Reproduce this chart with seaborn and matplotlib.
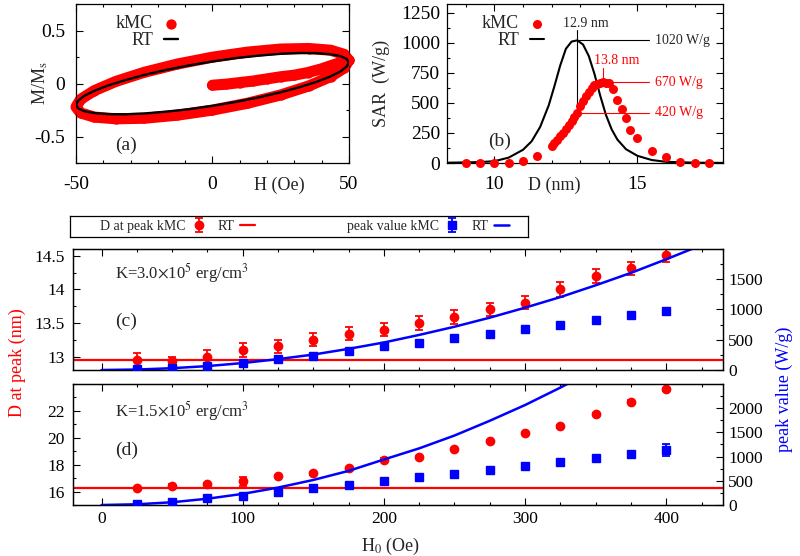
import matplotlib
matplotlib.use("Agg")
import matplotlib.pyplot as plt
import seaborn as sns
import pandas as pd
from matplotlib.ticker import MultipleLocator, FuncFormatter

RED = "#ff0000"
BLUE = "#0000ff"

# ---- (a) M/Ms vs H ----
loop_h_kmc = [0, 5, 10, 15, 20, 25, 30, 35, 40, 44, 47, 49,
              50, 48.3, 43.3, 35.4, 25, 12.9, 0, -12.9, -25, -35.4, -43.3, -48.3,
              -50, -48.3, -43.3, -35.4, -25, -12.9, 0, 12.9, 25, 35.4, 43.3, 48.3, 50]
loop_m_kmc = [-0.015, -0.005, 0.01, 0.025, 0.045, 0.065, 0.08, 0.105, 0.14, 0.175, 0.2, 0.22,
              0.22, 0.277, 0.316, 0.332, 0.327, 0.298, 0.25, 0.185, 0.107, 0.021, -0.066, -0.148,
              -0.22, -0.277, -0.316, -0.332, -0.327, -0.298, -0.25, -0.185, -0.107, -0.021, 0.066, 0.148, 0.22]
loop_h_rt = [50, 49.2, 47.0, 43.3, 38.3, 32.1, 25.0, 17.1, 8.7, 0, -8.7, -17.1, -25.0, -32.1, -38.3, -43.3,
             -47.0, -49.2, -50, -49.2, -47.0, -43.3, -38.3, -32.1, -25.0, -17.1, -8.7, 0, 8.7, 17.1,
             25.0, 32.1, 38.3, 43.3, 47.0, 49.2, 50]
loop_m_rt = [0.200, 0.234, 0.260, 0.278, 0.288, 0.290, 0.282, 0.265, 0.242, 0.210, 0.172, 0.129,
             0.082, 0.032, -0.018, -0.068, -0.116, -0.161, -0.200, -0.234, -0.260, -0.278, -0.288,
             -0.290, -0.282, -0.265, -0.242, -0.210, -0.172, -0.129, -0.082, -0.032, 0.018, 0.068,
             0.116, 0.161, 0.200]

# ---- (b) SAR vs D ----
sar_d_kmc = [9.0, 9.5, 10.0, 10.5, 11.0, 11.5,
             12.0, 12.1, 12.2, 12.3, 12.4, 12.5, 12.6, 12.7, 12.8, 12.9, 13.0, 13.1, 13.2, 13.3,
             13.4, 13.5, 13.6, 13.7, 13.8, 13.9, 14.0,
             14.15, 14.3, 14.45, 14.6, 14.75,
             15.0, 15.5, 16.0, 16.5, 17.0, 17.5]
sar_kmc = [0, 0, 2, 4, 18, 55,
           140, 165, 195, 222, 250, 282, 315, 350, 385, 420, 470, 518, 555, 590,
           620, 645, 660, 668, 670, 668, 662,
           615, 525, 450, 372, 278,
           208, 103, 46, 12, 2, 0]
sar_d_rt = [8.4, 9.0, 9.5, 10.0, 10.5, 11.0, 11.3, 11.6, 11.9, 12.1, 12.3, 12.5, 12.7, 12.9,
            13.1, 13.3, 13.5, 13.7, 13.9, 14.1, 14.3, 14.6, 15.0, 15.5, 16.0, 17.0, 18.0]
sar_rt = [3, 5, 8, 15, 45, 110, 180, 300, 480, 640, 810, 950, 1010, 1020,
          985, 890, 740, 560, 400, 280, 195, 115, 60, 25, 10, 3, 1]
rt_peak_pos, rt_peak_val = 12.9, 1020
kmc_peak_pos, kmc_peak_val = 13.8, 670
kmc_at_rt_peak = 420

# ---- (c), (d) peak position / value vs H0 ----
h0 = [25, 50, 75, 100, 125, 150, 175, 200, 225, 250, 275, 300, 325, 350, 375, 400]
dpeak_c = [12.95, 12.94, 13.0, 13.1, 13.15, 13.25, 13.34, 13.4, 13.5, 13.59, 13.7, 13.8, 14.0, 14.2, 14.31, 14.51]
dpeak_c_err = [0.1, 0.06, 0.1, 0.1, 0.1, 0.1, 0.1, 0.1, 0.11, 0.1, 0.1, 0.1, 0.11, 0.1, 0.1, 0.1]
peak_c = [15, 30, 65, 120, 178, 233, 306, 389, 444, 522, 600, 678, 750, 833, 906, 983]
peak_c_err = [15] * 16
dpeak_rt_c = 12.95
h_rt_c = [0, 25, 50, 75, 100, 125, 150, 175, 200, 225, 250, 275, 300, 325, 350, 375, 400, 425]
peak_rt_c = [0, 8, 30, 65, 115, 180, 255, 350, 455, 580, 715, 865, 1030, 1205, 1400, 1605, 1830, 2065]

dpeak_d = [16.26, 16.43, 16.56, 16.75, 17.16, 17.35, 17.76, 18.38, 18.56, 19.16, 19.76, 20.36, 20.86, 21.77, 22.69, 23.59]
dpeak_d_err = [0.1, 0.1, 0.1, 0.3, 0.1, 0.1, 0.1, 0.1, 0.1, 0.1, 0.1, 0.1, 0.1, 0.1, 0.1, 0.1]
peak_d = [21, 69, 138, 186, 262, 344, 413, 496, 572, 647, 730, 806, 888, 964, 1047, 1136]
peak_d_err = [20] * 15 + [125]
dpeak_rt_d = 16.3
h_rt_d = [0, 25, 50, 75, 100, 125, 150, 175, 200, 225, 250, 275, 300, 325, 350]
peak_rt_d = [0, 15, 57, 130, 230, 360, 517, 705, 940, 1170, 1435, 1740, 2065, 2425, 2810]

sns.set_theme(style="ticks")
plt.rcParams["font.family"] = ["Liberation Serif", "DejaVu Serif"]
plt.rcParams["mathtext.fontset"] = "stix"
plt.rcParams["axes.unicode_minus"] = False
plt.rcParams["axes.edgecolor"] = "black"
plt.rcParams["axes.linewidth"] = 0.9

fmt = FuncFormatter(lambda v, p: f"{v:g}")


def style_ticks(ax, size, padx, pady, top=True, left=True, right=True):
    ax.tick_params(which="both", direction="in", top=top, left=left, right=right,
                   colors="black", labelsize=size, width=0.8)
    ax.tick_params(which="major", length=5)
    ax.tick_params(which="minor", length=2.5)
    ax.tick_params(axis="x", pad=padx)
    ax.tick_params(axis="y", pad=pady)


fig = plt.figure(figsize=(8, 5.56), dpi=100)
ax_a = fig.add_axes([0.095, 0.7068, 0.341, 0.2855])
ax_b = fig.add_axes([0.559, 0.7068, 0.345, 0.2855])
ax_c = fig.add_axes([0.0916, 0.3345, 0.8118, 0.2177])
ax_d = fig.add_axes([0.0916, 0.0917, 0.8118, 0.2177])
ax_c2 = ax_c.twinx()
ax_d2 = ax_d.twinx()

# (a)
df_kmc = pd.DataFrame({"H": loop_h_kmc, "M": loop_m_kmc})
df_rt = pd.DataFrame({"H": loop_h_rt, "M": loop_m_rt})
ax_a.plot(df_kmc["H"], df_kmc["M"], color=RED, lw=8, solid_capstyle="round",
          solid_joinstyle="round", clip_on=False, zorder=2)
sns.scatterplot(data=df_kmc, x="H", y="M", ax=ax_a, color=RED, s=55, linewidth=0,
                label="kMC", clip_on=False, zorder=3)
sns.lineplot(data=df_rt, x="H", y="M", ax=ax_a, sort=False, estimator=None,
             color="black", lw=1.7, label="RT", zorder=4)
ax_a.set_xlim(-50, 50)
ax_a.set_ylim(-0.75, 0.75)
ax_a.set_xticks([-50, 0, 50])
ax_a.set_yticks([-0.5, 0, 0.5])
ax_a.xaxis.set_minor_locator(MultipleLocator(10))
ax_a.yaxis.set_minor_locator(MultipleLocator(0.25))
ax_a.yaxis.set_major_formatter(fmt)
style_ticks(ax_a, 14, 9, 8)
ax_a.set_xlabel("H (Oe)", fontsize=13)
ax_a.xaxis.set_label_coords(0.747, -0.088)
ax_a.set_ylabel("M/M$_\\mathrm{s}$", fontsize=13)
ax_a.yaxis.set_label_coords(-0.095, 0.5)
ax_a.text(0.143, 0.113, "(a)", transform=ax_a.transAxes, fontsize=14, va="center")
ax_a.legend(loc="upper left", bbox_to_anchor=(0.1, 1.01), markerfirst=False, frameon=False,
            fontsize=13, handlelength=0.8, handletextpad=0.6, labelspacing=0.0, borderpad=0.2)

# (b)
df_b_kmc = pd.DataFrame({"D": sar_d_kmc, "SAR": sar_kmc})
df_b_rt = pd.DataFrame({"D": sar_d_rt, "SAR": sar_rt})
sns.scatterplot(data=df_b_kmc, x="D", y="SAR", ax=ax_b, color=RED, s=42, linewidth=0,
                label="kMC", clip_on=False, zorder=3)
sns.lineplot(data=df_b_rt, x="D", y="SAR", ax=ax_b, sort=False, estimator=None,
             color="black", lw=1.5, label="RT", zorder=2)
ax_b.plot([rt_peak_pos, rt_peak_pos], [kmc_at_rt_peak, 1110], color="black", lw=0.8)
ax_b.plot([rt_peak_pos, 15.42], [rt_peak_val, rt_peak_val], color="black", lw=0.8)
ax_b.text(15.63, rt_peak_val, f"{rt_peak_val} W/g", fontsize=10, va="center")
ax_b.text(13.2, 1160, f"{rt_peak_pos} nm", fontsize=10, ha="center", va="center")
ax_b.plot([kmc_peak_pos, kmc_peak_pos], [kmc_peak_val, 790], color=RED, lw=0.8)
ax_b.plot([kmc_peak_pos, 15.42], [kmc_peak_val, kmc_peak_val], color=RED, lw=0.8)
ax_b.plot([rt_peak_pos, 15.42], [kmc_at_rt_peak, kmc_at_rt_peak], color=RED, lw=0.8)
ax_b.text(14.27, 856, f"{kmc_peak_pos} nm", fontsize=10, ha="center", va="center", color=RED)
ax_b.text(15.63, kmc_peak_val, f"{kmc_peak_val} W/g", fontsize=10, va="center", color=RED)
ax_b.text(15.63, kmc_at_rt_peak, f"{kmc_at_rt_peak} W/g", fontsize=10, va="center", color=RED)
ax_b.set_xlim(8.35, 18.0)
ax_b.set_ylim(0, 1320)
ax_b.set_xticks([10, 15])
ax_b.set_yticks([0, 250, 500, 750, 1000, 1250])
ax_b.xaxis.set_minor_locator(MultipleLocator(1))
ax_b.yaxis.set_minor_locator(MultipleLocator(125))
style_ticks(ax_b, 14, 9, 5)
ax_b.set_xlabel("D (nm)", fontsize=13)
ax_b.xaxis.set_label_coords(0.388, -0.088)
ax_b.set_ylabel("SAR  (W/g)", fontsize=13)
ax_b.yaxis.set_label_coords(-0.207, 0.5)
ax_b.text(0.149, 0.134, "(b)", transform=ax_b.transAxes, fontsize=14, va="center")
ax_b.legend(loc="upper left", bbox_to_anchor=(0.08, 1.01), markerfirst=False, frameon=False,
            fontsize=13, handlelength=0.8, handletextpad=0.6, labelspacing=0.0, borderpad=0.2)

# (c) and (d)
panels = [
    (ax_c, ax_c2, dpeak_c, dpeak_c_err, peak_c, peak_c_err, dpeak_rt_c, h_rt_c, peak_rt_c),
    (ax_d, ax_d2, dpeak_d, dpeak_d_err, peak_d, peak_d_err, dpeak_rt_d, h_rt_d, peak_rt_d),
]
handles = []
for ax, ax2, dp, dpe, pv, pve, drt, hrt, prt in panels:
    eb_r = ax.errorbar(h0, dp, yerr=dpe, fmt="o", color=RED, ms=6, capsize=3,
                       elinewidth=1.3, capthick=1.3, zorder=3)
    ln_r = ax.axhline(drt, color=RED, lw=1.6, zorder=2)
    eb_b = ax2.errorbar(h0, pv, yerr=pve, fmt="s", color=BLUE, ms=6, capsize=3,
                        elinewidth=1.3, capthick=1.3, zorder=3)
    sns.lineplot(x=hrt, y=prt, ax=ax2, sort=False, estimator=None, color=BLUE, lw=1.8, zorder=2)
    ln_b = ax2.get_lines()[-1]
    handles.append((eb_r, ln_r, eb_b, ln_b))
    ax.set_xlim(-20, 440)
    ax.set_xticks([0, 100, 200, 300, 400])
    ax.xaxis.set_minor_locator(MultipleLocator(25))
    ax.yaxis.set_major_formatter(fmt)
    style_ticks(ax, 12.5, 4, 6, right=False)
    style_ticks(ax2, 12.5, 4, 4, top=False, left=False)
    ax2.set_ylabel("")

ax_c.set_ylim(12.8, 14.6)
ax_c.set_yticks([13, 13.5, 14, 14.5])
ax_c.yaxis.set_minor_locator(MultipleLocator(0.25))
ax_c.tick_params(labelbottom=False)
ax_c2.set_ylim(0, 2000)
ax_c2.set_yticks([0, 500, 1000, 1500])
ax_c2.yaxis.set_minor_locator(MultipleLocator(250))

ax_d.set_ylim(15, 24)
ax_d.set_yticks([16, 18, 20, 22])
ax_d.yaxis.set_minor_locator(MultipleLocator(1))
ax_d2.set_ylim(0, 2500)
ax_d2.set_yticks([0, 500, 1000, 1500, 2000])
ax_d2.yaxis.set_minor_locator(MultipleLocator(250))

ax_c.text(0.064, 0.80, "K=3.0$\\times$10$^{5}$ erg/cm$^{3}$", transform=ax_c.transAxes,
          fontsize=12, va="center")
ax_c.text(0.064, 0.40, "(c)", transform=ax_c.transAxes, fontsize=14, va="center")
ax_d.text(0.064, 0.777, "K=1.5$\\times$10$^{5}$ erg/cm$^{3}$", transform=ax_d.transAxes,
          fontsize=12, va="center")
ax_d.text(0.064, 0.449, "(d)", transform=ax_d.transAxes, fontsize=14, va="center")

ax_d.set_xlabel("H$_0$ (Oe)", fontsize=13)
ax_d.xaxis.set_label_coords(0.488, -0.256)
fig.text(0.022, 0.347, "D at peak (nm)", rotation=90, color=RED, fontsize=13,
         ha="center", va="center")
fig.text(0.981, 0.2995, "peak value (W/g)", rotation=90, color=BLUE, fontsize=13,
         ha="center", va="center")

# shared legend box
ax_leg = fig.add_axes([0.0875, 0.5737, 0.5725, 0.0383])
ax_leg.set_xticks([])
ax_leg.set_yticks([])
for s in ax_leg.spines.values():
    s.set_linewidth(0.9)
eb_r, ln_r, eb_b, ln_b = handles[0]
leg1 = ax_leg.legend([eb_r, ln_r], ["D at peak kMC", "RT"], ncol=2, markerfirst=False,
                     frameon=False, loc="center left", bbox_to_anchor=(0.05, 0.5),
                     fontsize=10, handlelength=1.1, handletextpad=0.4, columnspacing=0.8,
                     borderpad=0)
ax_leg.add_artist(leg1)
ax_leg.legend([eb_b, ln_b], ["peak value kMC", "RT"], ncol=2, markerfirst=False,
              frameon=False, loc="center left", bbox_to_anchor=(0.59, 0.5),
              fontsize=10, handlelength=1.1, handletextpad=0.4, columnspacing=0.8,
              borderpad=0)

fig.savefig("out.png", dpi=100)
